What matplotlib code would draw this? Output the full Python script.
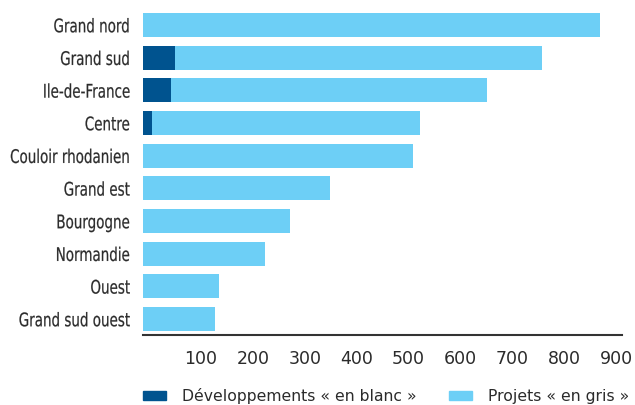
import matplotlib
matplotlib.use("Agg")
import matplotlib.pyplot as plt
import matplotlib.patches as mpatches
from matplotlib.transforms import ScaledTranslation, Affine2D
from matplotlib.patheffects import AbstractPathEffect
import numpy as np

regions = ["Grand nord", "Grand sud", "Ile-de-France", "Centre", "Couloir rhodanien",
           "Grand est", "Bourgogne", "Normandie", "Ouest", "Grand sud ouest"]
dev_blanc = [0, 62, 54, 17, 0, 0, 0, 0, 0, 0]
projets_gris = [880, 707, 609, 517, 520, 360, 283, 235, 146, 139]
xticks = [100, 200, 300, 400, 500, 600, 700, 800, 900]

dark = "#00538f"
light = "#6dcff6"
txt = "#2b2b2b"
label_fs = 10


# stretch the glyphs: narrow and tall, like a condensed face
# (right edge and the middle of the capitals stay in place)
class Condense(AbstractPathEffect):
    def __init__(self, fs, sx=0.97, sy=1.35, lw=0.15):
        super().__init__()
        self.fs = fs
        self.sx = sx
        self.sy = sy
        self.lw = lw

    def draw_path(self, renderer, gc, tpath, affine, rgbFace=None):
        xr = tpath.get_extents(affine).x1
        em = renderer.points_to_pixels(self.fs)
        yc = affine.get_matrix()[1, 2] + 0.365 * em
        aff = affine + Affine2D().translate(-xr, -yc).scale(self.sx, self.sy).translate(xr, yc)
        gc0 = renderer.new_gc()
        gc0.copy_properties(gc)
        gc0.set_linewidth(self.lw)
        gc0.set_foreground(rgbFace)
        renderer.draw_path(gc0, tpath, aff, rgbFace)
        gc0.restore()


fig = plt.figure(figsize=(6.35, 4.05), dpi=100)
ax = fig.add_axes([143/635, 70/405, 479/635, 326/405])

y = np.arange(len(regions))
ax.barh(y, dev_blanc, height=0.73, color=dark)
ax.barh(y, projets_gris, left=dev_blanc, height=0.73, color=light)

ax.set_xlim(0, 923)
ax.set_ylim(9.49, -0.49)
ax.set_yticks(y)
ax.set_yticklabels(regions, fontsize=label_fs, color=txt)
for lab in ax.get_yticklabels():
    lab.set_path_effects([Condense(label_fs)])
ax.set_xticks(xticks)
ax.set_xticklabels([str(v) for v in xticks], fontsize=12.5, color=txt)
ax.tick_params(axis="both", length=0)
ax.tick_params(axis="y", pad=9.4)
ax.tick_params(axis="x", pad=11)
off = ScaledTranslation(6/100, 0, fig.dpi_scale_trans)
for lab in ax.get_xticklabels():
    lab.set_transform(lab.get_transform() + off)

for s in ["top", "right", "left"]:
    ax.spines[s].set_visible(False)
ax.spines["bottom"].set_color("#333333")
ax.spines["bottom"].set_linewidth(1.5)

h1 = mpatches.Patch(color=dark)
h2 = mpatches.Patch(color=light)
fig.legend([h1, h2], ["Développements « en blanc »", "Projets « en gris »"],
           loc="lower left", bbox_to_anchor=(140/635, -2/405), ncol=2, frameon=False,
           fontsize=11.25, handlelength=1.47, handleheight=0.57, handletextpad=1.02,
           columnspacing=2.05, labelcolor=txt, borderaxespad=0, borderpad=0.2)

fig.savefig("out.png", dpi=100)
